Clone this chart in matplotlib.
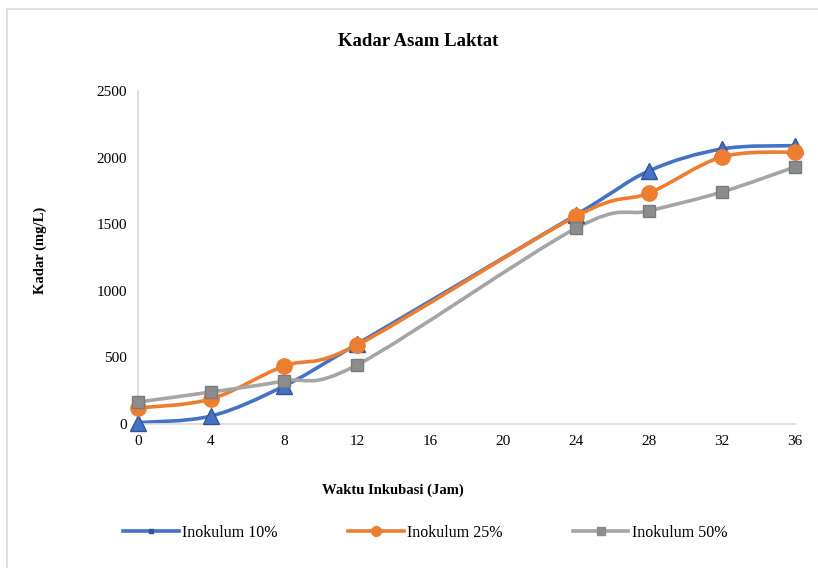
import matplotlib
matplotlib.use("Agg")
import matplotlib.pyplot as plt
import numpy as np
from matplotlib.path import Path
from matplotlib.patches import PathPatch, Rectangle
from matplotlib.lines import Line2D

plt.rcParams['font.family'] = ['Liberation Serif', 'DejaVu Serif']

hours = [0, 4, 8, 12, 24, 28, 32, 36]
inokulum_10 = [10, 60, 285, 600, 1570, 1900, 2065, 2090]
inokulum_25 = [120, 188, 435, 593, 1560, 1734, 2005, 2042]
inokulum_50 = [165, 240, 323, 443, 1470, 1600, 1742, 1930]
series_names = ["Inokulum 10%", "Inokulum 25%", "Inokulum 50%"]
x_ticks = [0, 4, 8, 12, 16, 20, 24, 28, 32, 36]
y_ticks = [0, 500, 1000, 1500, 2000, 2500]

colors = ["#4472C4", "#ED7D31", "#A5A5A5"]
marker_styles = [dict(marker="^", ms=11, mfc="#4472C4", mec="#2F5597"),
                 dict(marker="o", ms=11, mfc="#ED7D31", mec="#ED7D31"),
                 dict(marker="s", ms=9, mfc="#8C8C8C", mec="#7A7A7A")]


def smooth_path(x, y):
    pts = np.column_stack([x, y]).astype(float)
    n = len(pts)
    verts = [pts[0]]
    codes = [Path.MOVETO]
    for i in range(n - 1):
        p0 = pts[i - 1] if i > 0 else pts[i]
        p1 = pts[i]
        p2 = pts[i + 1]
        p3 = pts[i + 2] if i + 2 < n else pts[i + 1]
        c1 = p1 + (p2 - p0) / 6.0
        c2 = p2 - (p3 - p1) / 6.0
        verts += [c1, c2, p2]
        codes += [Path.CURVE4] * 3
    return Path(verts, codes)


fig = plt.figure(figsize=(8.18, 5.68), dpi=100)
fig.patches.append(Rectangle((7 / 818, -0.1), 1.2, (568 - 9) / 568 + 0.1,
                             transform=fig.transFigure, fill=False,
                             edgecolor="#D9D9D9", lw=1.2))
ax = fig.add_axes([138 / 818, 1 - 424 / 568, (795 - 138) / 818, (424 - 91) / 568])

data = [inokulum_10, inokulum_25, inokulum_50]
for vals, col, ms in zip(data, colors, marker_styles):
    patch = PathPatch(smooth_path(hours, vals), facecolor="none", edgecolor=col,
                      lw=2.6, capstyle="round", joinstyle="round", zorder=2)
    ax.add_patch(patch)
    ax.plot(hours, vals, linestyle="none", clip_on=False, zorder=3, **ms)

ax.set_xlim(0, 36)
ax.set_ylim(0, 2500)
ax.set_xticks(x_ticks)
ax.set_yticks(y_ticks)
ax.tick_params(length=0, labelsize=11, pad=8)
for s in ["top", "right"]:
    ax.spines[s].set_visible(False)
for s in ["left", "bottom"]:
    ax.spines[s].set_color("#D9D9D9")
    ax.spines[s].set_linewidth(1.2)

fig.text(418 / 818, 1 - 42 / 568, "Kadar Asam Laktat", ha="center", va="center",
         fontsize=13.5, fontweight="bold")
fig.text(40 / 818, 1 - 250 / 568, "Kadar (mg/L)", ha="center", va="center",
         rotation=90, fontsize=10.5, fontweight="bold")
fig.text(393 / 818, 1 - 490 / 568, "Waktu Inkubasi (Jam)", ha="center", va="center",
         fontsize=10.5, fontweight="bold")

handles = [
    Line2D([], [], color=colors[0], lw=2.6, marker="s", ms=3, mfc="#2F5597", mec="#2F5597"),
    Line2D([], [], color=colors[1], lw=2.6, marker="o", ms=7, mfc=colors[1], mec=colors[1]),
    Line2D([], [], color=colors[2], lw=2.6, marker="s", ms=6, mfc="#8C8C8C", mec="#8C8C8C"),
]
fig.legend(handles, series_names, loc="center", bbox_to_anchor=(425 / 818, 1 - 533 / 568),
           ncol=3, frameon=False, fontsize=11.5, handlelength=3.5, columnspacing=4.4,
           handletextpad=0.2)

fig.savefig("out.png", dpi=100)
